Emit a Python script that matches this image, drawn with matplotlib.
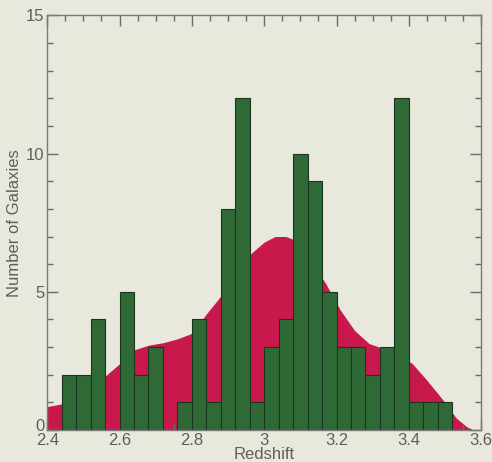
import numpy as np
import matplotlib
matplotlib.use("Agg")
import matplotlib.pyplot as plt
from matplotlib.ticker import MultipleLocator
from matplotlib.transforms import ScaledTranslation

plt.rcParams['font.family'] = ['Liberation Sans', 'DejaVu Sans']

# histogram: bins of 0.04 in redshift, starting at 2.44
bin_left = [2.44, 2.48, 2.52, 2.56, 2.60, 2.64, 2.68, 2.72, 2.76, 2.80, 2.84,
            2.88, 2.92, 2.96, 3.00, 3.04, 3.08, 3.12, 3.16, 3.20, 3.24, 3.28,
            3.32, 3.36, 3.40, 3.44, 3.48]
counts = [2, 2, 4, 0, 5, 2, 3, 0, 1, 4, 1,
          8, 12, 1, 3, 4, 10, 9, 5, 3, 3, 2,
          3, 12, 1, 1, 1]
bin_width = 0.04

# smoothed selection function (red area)
curve_z = [2.40, 2.44, 2.50, 2.56, 2.60, 2.64, 2.68, 2.72, 2.76, 2.80, 2.84,
           2.88, 2.92, 2.96, 3.00, 3.03, 3.06, 3.08, 3.12, 3.17, 3.21, 3.25,
           3.29, 3.33, 3.37, 3.41, 3.45, 3.50, 3.53, 3.56, 3.58, 3.60]
curve_n = [0.85, 0.95, 1.3, 1.95, 2.4, 2.9, 3.07, 3.16, 3.3, 3.5, 4.2,
           4.85, 5.7, 6.35, 6.8, 7.0, 7.0, 6.9, 6.3, 5.3, 4.35, 3.6,
           3.13, 2.95, 2.75, 2.4, 1.8, 1.0, 0.45, 0.12, 0.0, 0.0]

paper = "#e9e8dc"
txt = "#5e5e5e"

fig = plt.figure(figsize=(4.92, 4.62), dpi=100, facecolor=paper)
ax = fig.add_axes([0.096, 0.069, 0.882, 0.898], facecolor=paper)

ax.fill_between(curve_z, 0, curve_n, color="#c8184c", linewidth=0, zorder=1)
ax.bar(bin_left, counts, width=bin_width, align="edge", color="#2f6a36",
       edgecolor="#1c3520", linewidth=0.8, zorder=2)

ax.set_xlim(2.4, 3.6)
ax.set_ylim(0, 15)
ax.set_xticks([2.4, 2.6, 2.8, 3.0, 3.2, 3.4, 3.6])
ax.set_xticklabels(["2.4", "2.6", "2.8", "3", "3.2", "3.4", "3.6"])
ax.set_yticks([0, 5, 10, 15])
ax.xaxis.set_minor_locator(MultipleLocator(0.05))
ax.yaxis.set_minor_locator(MultipleLocator(1))
ax.tick_params(which="both", direction="in", top=True, right=True,
               color="#6a6a6a", labelcolor=txt, labelsize=12, pad=2)
ax.tick_params(which="major", length=8, width=1)
ax.tick_params(which="minor", length=4, width=1)
for s in ax.spines.values():
    s.set_color("#7a7a7a")
    s.set_linewidth(1)

# lift the "0" so it clears the "2.4" below it
zero_lbl = ax.get_yticklabels()[0]
zero_lbl.set_transform(zero_lbl.get_transform() + ScaledTranslation(0, 4 / 72, fig.dpi_scale_trans))

ax.set_xlabel("Redshift", color=txt, fontsize=12, labelpad=-1)
ax.set_ylabel("Number of Galaxies", color=txt, fontsize=12, labelpad=3)

fig.savefig("out.png", dpi=100, facecolor=paper)
